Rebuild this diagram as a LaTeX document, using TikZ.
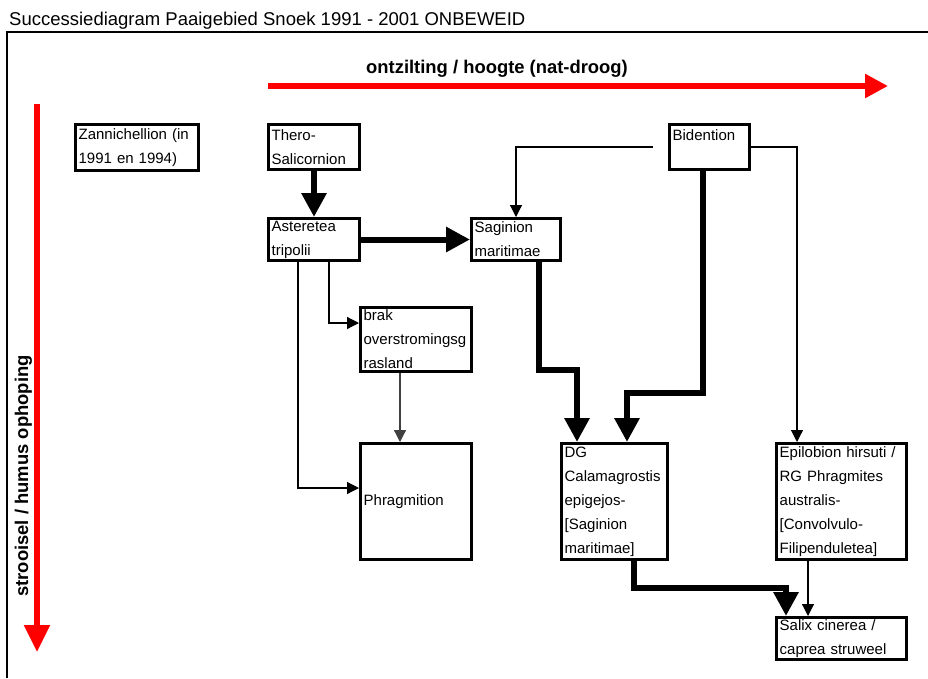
\documentclass[tikz,border=0pt]{standalone}
\usepackage{fontspec}
\setmainfont{Liberation Sans}
\usetikzlibrary{arrows.meta}

% box given by its outer edges: name, x1, y1, x2, y2, text
\newcommand\stagebox[6]{%
  \pgfmathsetmacro\stgW{#4-#2-3.3}%
  \pgfmathsetmacro\stgH{#5-#3-3.3}%
  \pgfmathsetmacro\stgT{\stgW-6}%
  \node[box, minimum width=\stgW pt, minimum height=\stgH pt, text width=\stgT pt]
    (#1) at ({(#2+#4)/2},{(#3+#5)/2}) {#6};}

\begin{document}
\begin{tikzpicture}[x=1pt,y=-1pt,
  box/.style={draw, line width=3.3pt, rectangle, align=left, inner xsep=3pt, inner ysep=0pt,
    font=\fontsize{15}{24}\selectfont,
    execute at begin node={\hyphenpenalty=10000\exhyphenpenalty=10000}},
  heavy/.style={line width=6pt, -{Triangle[length=24pt,width=24pt]}},
  light/.style={line width=1.2pt, -{Triangle[length=12pt,width=12pt]}},
  axis/.style={red, line width=5.5pt},
  axislabel/.style={font=\bfseries\fontsize{18.4}{20}\selectfont},
]
% page
\path[fill=white, use as bounding box] (0,0) rectangle (928,678);

% title and frame
\node[font=\fontsize{18.5}{20}\selectfont, anchor=base west, inner sep=0pt] (title) at (9,25)
  {Successiediagram Paaigebied Snoek 1991 - 2001 ONBEWEID};
\coordinate (fbl) at (6.5,678);
\coordinate (ftl) at (6.5,32);
\coordinate (ftr) at (928,32);
\draw[line width=2pt] (fbl) -- (ftl) -- (ftr);

% gradient axes
\coordinate (hx0) at (268,86);
\coordinate (hx1) at (888,86);
\draw[axis, -{Triangle[length=23pt,width=23pt]}] (hx0) -- (hx1);
\node[axislabel, anchor=base] (xlabel) at (497,73)
  {ontzilting / hoogte (nat-droog)};
\coordinate (vy0) at (37,104);
\coordinate (vy1) at (37,652);
\draw[axis, -{Triangle[length=27pt,width=25pt]}] (vy0) -- (vy1);
\node[axislabel, rotate=90, anchor=base] (ylabel) at (28,476)
  {strooisel / humus ophoping};

% vegetation stages
\stagebox{zan}{74}{123}{200}{172}{Zannichellion (in\\1991 en 1994)}
\stagebox{thero}{267}{123}{361}{171}{Thero-\\Salicornion}
\stagebox{aster}{267}{217}{361}{262}{Asteretea\\tripolii}
\stagebox{sagin}{470}{217}{562}{262}{Saginion\\maritimae}
\stagebox{biden}{668}{123}{751}{171}{Bidention\\\mbox{}}
\stagebox{brak}{359}{306}{473}{373}{brak\\overstromingsg\\rasland}
\stagebox{phrag}{359}{442}{473}{561}{Phragmition}
\stagebox{dg}{560}{442}{669}{561}{DG\\Calamagrostis\\epigejos-\\{[}Saginion\\maritimae]}
\stagebox{epil}{775}{442}{908}{561}{Epilobion hirsuti /\\RG Phragmites\\australis-\\{[}Convolvulo-\\Filipenduletea]}
\stagebox{salix}{775}{616}{908}{661}{Salix cinerea /\\caprea struweel}

% bend points
\coordinate (sg1) at (539,370);
\coordinate (sg2) at (577,370);
\coordinate (bd1) at (703,393);
\coordinate (bd2) at (627,393);
\coordinate (ds1) at (634,588);
\coordinate (ds2) at (786,588);
\coordinate (be1) at (797,300);
\coordinate (ab1) at (329,323);
\coordinate (ap1) at (298,488);
\coordinate (bp1) at (400,400);
\coordinate (es1) at (808,600);

% main successions
\draw[heavy] (thero.south) -- (aster.north);
\draw[heavy] (aster.east) -- (sagin.west);
\draw[heavy] (sagin.south -| sg1) -- (sg1) -- (sg2) -- (sg2 |- dg.north);
\draw[heavy] (biden.south -| bd1) -- (bd1) -- (bd2) -- (bd2 |- dg.north);
\draw[heavy] (dg.south -| ds1) -- (ds1) -- (ds2) -- (ds2 |- salix.north);

% minor successions
\draw[light, shorten <=15pt] (biden.west) -| (sagin.north);
\draw[light] (biden.east) -| (be1 |- epil.north);
\draw[light] (aster.south -| ab1) |- (ab1 -| brak.west);
\draw[light] (aster.south -| ap1) |- (ap1 -| phrag.west);
\draw[light, black!75] (brak.south -| bp1) -- (bp1 |- phrag.north);
\draw[light] (epil.south -| es1) -- (es1 |- salix.north);
\end{tikzpicture}
\end{document}
